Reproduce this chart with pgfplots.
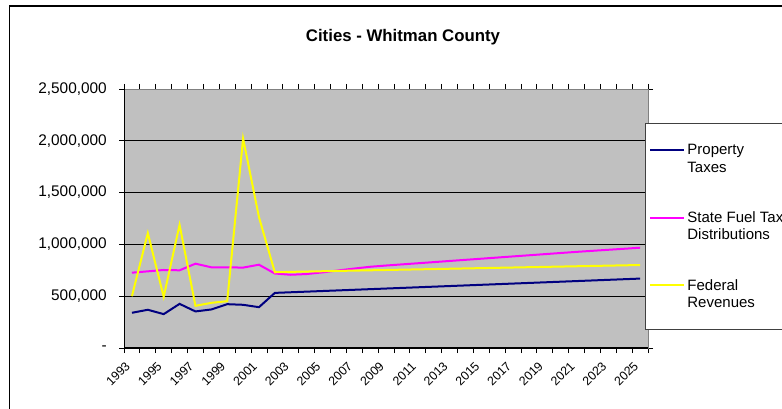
\documentclass[border=0pt]{standalone}
\usepackage{fontspec}
\setmainfont{Liberation Sans}
\usepackage{pgfplots}
\pgfplotsset{compat=1.18}
\usepackage{pgfplotstable}
\definecolor{navyc}{RGB}{0,0,128}
\definecolor{magc}{RGB}{255,0,255}
\definecolor{yelc}{RGB}{255,255,0}
\definecolor{plotbg}{RGB}{192,192,192}

\pgfplotstableread{
year prop fuel fed
1993 340000 727000 500000
1994 369000 740000 1109000
1995 327000 753000 494000
1996 426000 750000 1189000
1997 353000 814000 407000
1998 372000 779000 436000
1999 423000 779000 452000
2000 417000 776000 2022000
2001 394000 804000 1263000
2002 532000 719000 731000
2003 538000 707000 735000
2004 544000 714000 738000
2005 550000 730000 741000
2006 556000 749000 744000
2007 562000 767000 747000
2008 568000 784000 750000
2009 574000 796000 753000
2010 580000 807000 756000
2011 586000 818000 759000
2012 592000 829000 762000
2013 598000 840000 765000
2014 604000 851000 768000
2015 610000 862000 771000
2016 616000 873000 774000
2017 622000 884000 777000
2018 628000 895000 780000
2019 634000 906000 783000
2020 640000 917000 786000
2021 646000 928000 789000
2022 652000 938000 792000
2023 658000 948000 795000
2024 664000 958000 798000
2025 670000 968000 801000
}\datatable

\begin{document}
\begin{tikzpicture}
\path[use as bounding box] (0pt,0pt) rectangle (782pt,408pt);
\draw[black, line width=1.3pt] (9.5pt,402pt) rectangle (900pt,-50pt);
\node[font=\bfseries\fontsize{16.8}{20}\selectfont] at (403pt,371.3pt) {Cities - Whitman County};
\begin{axis}[
  at={(124pt,60pt)}, anchor=south west,
  width=524pt, height=259pt, scale only axis,
  xmin=1992.5, xmax=2025.5,
  ymin=0, ymax=2500000,
  axis background/.style={fill=plotbg},
  axis line style={draw=black!50, line width=1pt},
  tick align=outside,
  major tick length=5pt,
  tick style={black, line width=0.8pt},
  xtick={1992.5,1993.5,...,2025.5},
  xticklabels={},
  extra x ticks={1993,1995,1997,1999,2001,2003,2005,2007,2009,2011,2013,2015,2017,2019,2021,2023,2025},
  extra x tick labels={1993,1995,1997,1999,2001,2003,2005,2007,2009,2011,2013,2015,2017,2019,2021,2023,2025},
  extra x tick style={major tick length=0pt, grid=none,
    xticklabel style={xshift=-4pt, yshift=-16pt, rotate=45, anchor=east, inner sep=0pt,
      font=\fontsize{12.4}{14}\selectfont}},
  ytick={0,500000,1000000,1500000,2000000,2500000},
  yticklabels={{-\hspace{17pt}},{500,000},{1,000,000},{1,500,000},{2,000,000},{2,500,000}},
  yticklabel style={font=\fontsize{15.4}{18}\selectfont, anchor=east, inner sep=0pt, xshift=-12pt},
  ymajorgrids=true,
  major grid style={black, line width=1pt},
  scaled y ticks=false,
  legend cell align=left,
  legend image code/.code={\path[draw=none,fill=none] (0pt,-8.7pt) -- (0pt,8.7pt); \draw[#1] (0pt,8.7pt) -- (34pt,8.7pt);},
  legend style={at={(0.9943,0.8687)}, anchor=north west, draw=black!75, fill=white, line width=0.8pt,
    inner xsep=4pt, inner ysep=19pt, row sep=34pt,
    font=\fontsize{15}{17.3}\selectfont,
    nodes={align=left}},
]
\addplot[navyc, line width=2pt] table[x=year, y=prop] {\datatable};
\addlegendentry{Property\\Taxes}
\addplot[magc, line width=2pt] table[x=year, y=fuel] {\datatable};
\addlegendentry{State Fuel Tax\\Distributions}
\addplot[yelc, line width=2pt] table[x=year, y=fed] {\datatable};
\addlegendentry{Federal\\Revenues}
\draw[black, line width=1.2pt] (rel axis cs:0,1) -- (rel axis cs:0,0) -- (rel axis cs:1,0);
\end{axis}
\end{tikzpicture}
\end{document}
